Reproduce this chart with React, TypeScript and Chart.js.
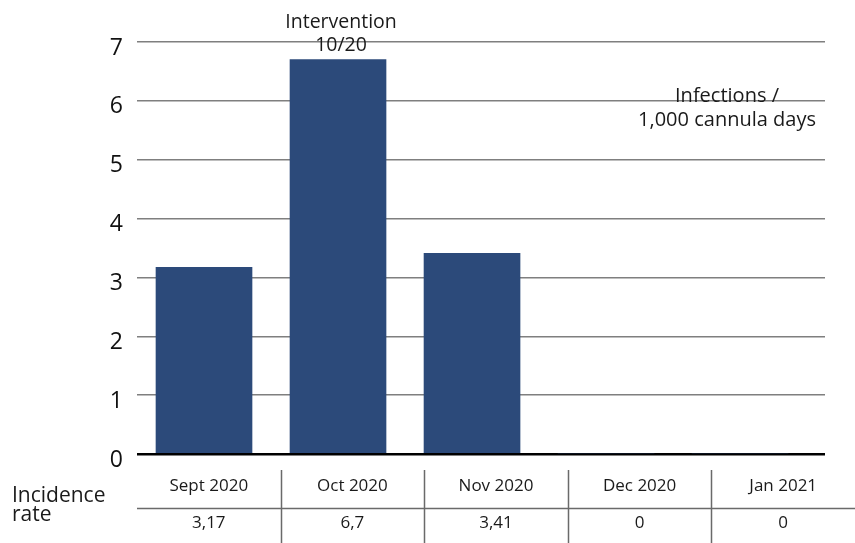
import React, { useEffect, useRef } from "react";
import { Chart, registerables } from "chart.js";

Chart.register(...registerables);

const categories = ["Sept 2020", "Oct 2020", "Nov 2020", "Dec 2020", "Jan 2021"];
const incidenceRate = [3.17, 6.7, 3.41, 0, 0];
const incidenceLabels = ["3,17", "6,7", "3,41", "0", "0"];
const yTickValues = [0, 1, 2, 3, 4, 5, 6, 7];
const interventionLabel = ["Intervention", "10/20"];
const interventionIndex = 1;
const unitLabel = ["Infections /", "1,000 cannula days"];
const rowHeader = ["Incidence", "rate"];

const FONT = "'Open Sans', sans-serif";
const BAR_COLOR = "#2c4a7a";

const overlayPlugin = {
  id: "overlay",
  afterDraw(chart: any) {
    const { ctx, chartArea } = chart;
    const xs = chart.scales.x;
    ctx.save();
    ctx.fillStyle = "#1a1a1a";
    ctx.textAlign = "center";
    ctx.textBaseline = "alphabetic";

    // Intervention annotation
    ctx.font = `19.5px ${FONT}`;
    const ix = xs.getPixelForValue(interventionIndex) + 3;
    ctx.fillText(interventionLabel[0], ix, 28);
    ctx.fillText(interventionLabel[1], ix, 51);

    // Unit annotation
    ctx.font = `20px ${FONT}`;
    const ux = chartArea.right - 98;
    ctx.fillText(unitLabel[0], ux, 102);
    ctx.fillText(unitLabel[1], ux, 126);

    // Table
    const left = chartArea.left;
    const right = chart.width;
    const colW = (right - left) / categories.length;
    ctx.strokeStyle = "#6a6a6a";
    ctx.lineWidth = 1.5;
    ctx.beginPath();
    ctx.moveTo(left, 508.5);
    ctx.lineTo(right, 508.5);
    for (let i = 1; i < categories.length; i++) {
      const x = Math.round(left + colW * i) + 0.5;
      ctx.moveTo(x, 470);
      ctx.lineTo(x, chart.height);
    }
    ctx.stroke();

    ctx.font = `17px ${FONT}`;
    categories.forEach((c, i) => {
      const cx = left + colW * (i + 0.5);
      ctx.fillText(c, cx, 491);
      ctx.fillText(incidenceLabels[i], cx, 528);
    });

    ctx.textAlign = "left";
    ctx.font = `21px ${FONT}`;
    ctx.fillText(rowHeader[0], 12, 502);
    ctx.fillText(rowHeader[1], 12, 521);
    ctx.restore();
  },
};

export default function App() {
  const ref = useRef<HTMLCanvasElement>(null);

  useEffect(() => {
    if (!ref.current) return;
    const chart = new Chart(ref.current, {
      type: "bar",
      data: {
        labels: categories,
        datasets: [
          {
            label: "Incidence rate",
            data: incidenceRate.map((v, i) => ({ x: i, y: v })),
            backgroundColor: BAR_COLOR,
            borderWidth: 0,
            barThickness: 96,
          },
        ],
      },
      options: {
        animation: false,
        responsive: false,
        maintainAspectRatio: false,
        layout: { padding: { left: 0, right: 30, top: 42, bottom: 89 } },
        plugins: {
          legend: { display: false },
          tooltip: { enabled: false },
          title: { display: false },
        },
        scales: {
          x: {
            type: "linear",
            display: false,
            offset: false,
            min: -0.5,
            max: 4.634,
          },
          y: {
            min: 0,
            max: 7,
            afterFit(scale: any) {
              scale.width = 137;
            },
            afterBuildTicks(scale: any) {
              scale.ticks = yTickValues.map((v) => ({ value: v }));
            },
            border: { display: false },
            grid: {
              drawTicks: false,
              color: (c: any) => (c.tick && c.tick.value === 0 ? "#000000" : "#7f7f7f"),
              lineWidth: (c: any) => (c.tick && c.tick.value === 0 ? 2.5 : 1.5),
            },
            ticks: {
              padding: 14,
              labelOffset: 6,
              color: "#111111",
              font: { family: FONT, size: 23 },
            },
          },
        },
      },
      plugins: [overlayPlugin],
    });
    return () => chart.destroy();
  }, []);

  return (
    <div style={{ position: "absolute", left: 0, top: 0, width: 855, height: 543, background: "#fff" }}>
      <canvas ref={ref} width={855} height={543} style={{ display: "block" }} />
    </div>
  );
}
